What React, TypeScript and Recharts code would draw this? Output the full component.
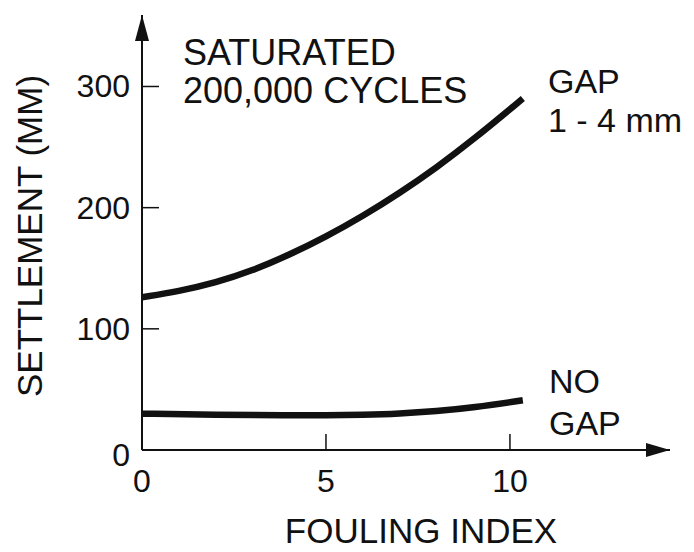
import React from "react";
import {
  LineChart,
  Line,
  XAxis,
  YAxis,
  ReferenceDot,
} from "recharts";

const gapIndex = [0, 1, 2, 3, 4, 5, 6, 7, 8, 9, 10.35];
const gapSettlement = [126, 131, 138, 148, 161, 176, 193, 212, 233, 256, 290];

const noGapIndex = [0, 2, 4, 5, 6, 7, 8, 9, 10.35];
const noGapSettlement = [30, 29, 28.5, 28.5, 29, 30, 32, 35, 41];

const xTicks = [0, 5, 10];
const yTicks = [0, 100, 200, 300];

const gapData = gapIndex.map((x, i) => ({ x, y: gapSettlement[i] }));
const noGapData = noGapIndex.map((x, i) => ({ x, y: noGapSettlement[i] }));

const FONT = "'Liberation Sans', Arial, Helvetica, sans-serif";
const INK = "#111";

const YTick = (props: any) => {
  const { x, y, payload } = props;
  return (
    <g>
      {payload.value > 0 && (
        <line x1={x} y1={y} x2={x + 17} y2={y} stroke={INK} strokeWidth={1.5} />
      )}
      <text
        x={x - 12}
        y={payload.value === 0 ? y + 5 : y}
        textAnchor="end"
        dominantBaseline="central"
        fontSize={32}
        fontFamily={FONT}
        fill={INK}
      >
        {payload.value}
      </text>
    </g>
  );
};

const XTick = (props: any) => {
  const { x, y, payload } = props;
  return (
    <g>
      {payload.value > 0 && (
        <line x1={x} y1={y} x2={x} y2={y - 16} stroke={INK} strokeWidth={1.5} />
      )}
      <text
        x={x}
        y={y + 42}
        textAnchor="middle"
        fontSize={32}
        fontFamily={FONT}
        fill={INK}
      >
        {payload.value}
      </text>
    </g>
  );
};

const ArrowRight = (props: any) => {
  const { cx, cy } = props;
  return <path d={`M${cx},${cy} L${cx - 24},${cy - 7} L${cx - 24},${cy + 7} Z`} fill={INK} />;
};

const ArrowUp = (props: any) => {
  const { cx, cy } = props;
  return <path d={`M${cx},${cy} L${cx - 7},${cy + 26} L${cx + 7},${cy + 26} Z`} fill={INK} />;
};

export default function App() {
  return (
    <div
      style={{
        position: "absolute",
        left: 0,
        top: 0,
        width: 694,
        height: 552,
        background: "#fff",
      }}
    >
      <LineChart
        width={694}
        height={552}
        margin={{ top: 15, right: 24, bottom: 0, left: 0 }}
      >
        <XAxis
          type="number"
          dataKey="x"
          domain={[0, 14.35]}
          ticks={xTicks}
          allowDataOverflow
          height={102}
          tickSize={0}
          tickMargin={0}
          tickLine={false}
          axisLine={{ stroke: INK, strokeWidth: 2 }}
          tick={<XTick />}
        />
        <YAxis
          type="number"
          dataKey="y"
          domain={[0, 359]}
          ticks={yTicks}
          allowDataOverflow
          width={142}
          tickSize={0}
          tickMargin={0}
          tickLine={false}
          axisLine={{ stroke: INK, strokeWidth: 2 }}
          tick={<YTick />}
        />
        <Line
          data={gapData}
          dataKey="y"
          type="basis"
          stroke={INK}
          strokeWidth={6.5}
          dot={false}
          isAnimationActive={false}
        />
        <Line
          data={noGapData}
          dataKey="y"
          type="basis"
          stroke={INK}
          strokeWidth={6.5}
          dot={false}
          isAnimationActive={false}
        />
        <ReferenceDot x={14.35} y={0} r={0} shape={<ArrowRight />} />
        <ReferenceDot x={0} y={359} r={0} shape={<ArrowUp />} />
      </LineChart>
      <svg
        width={694}
        height={552}
        style={{ position: "absolute", left: 0, top: 0, pointerEvents: "none" }}
        fontFamily={FONT}
        fill={INK}
      >
        <text x={183} y={65} fontSize={36}>SATURATED</text>
        <text x={183} y={103} fontSize={36}>200,000 CYCLES</text>
        <text x={548} y={93} fontSize={34}>GAP</text>
        <text x={548} y={132} fontSize={34}>1 - 4 mm</text>
        <text x={549} y={393} fontSize={34}>NO</text>
        <text x={549} y={435} fontSize={34}>GAP</text>
        <text x={421} y={543} fontSize={35} textAnchor="middle">FOULING INDEX</text>
        <text
          x={42}
          y={236}
          fontSize={35}
          textAnchor="middle"
          transform="rotate(-90 42 236)"
        >
          SETTLEMENT (MM)
        </text>
      </svg>
    </div>
  );
}
